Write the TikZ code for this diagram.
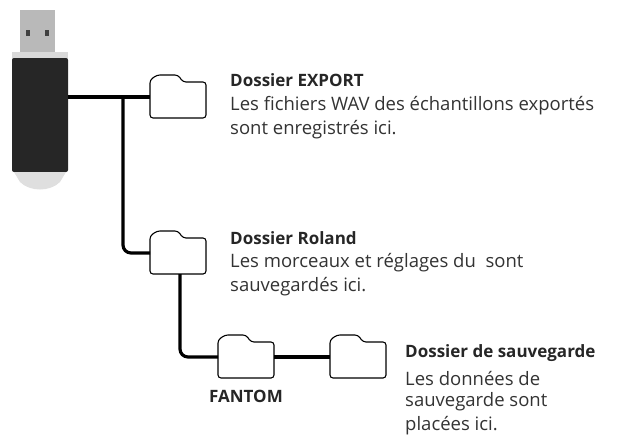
\documentclass[tikz,border=0pt]{standalone}
\usepackage{fontspec}
\setmainfont{Open Sans}
\begin{document}
\begin{tikzpicture}[x=1pt,y=-1pt,
  conn/.style={line width=3.2pt,black},
  txt/.style={anchor=west,font=\fontsize{18.5}{20}\selectfont,text=black!80,inner sep=0},
  ttl/.style={anchor=west,font=\fontsize{17}{20}\selectfont\bfseries,text=black!85,inner sep=0}]
\useasboundingbox (0,0) rectangle (618,437);
\def\folder#1#2#3{%
 \draw[line width=1.1pt,fill=white,rounded corners=3pt] (#1,#2+8) -- (#1,#2+46) -- (#1+56,#2+46) -- (#1+56,#2+10) -- (#1+33,#2+10) -- (#1+28,#2+3) -- (#1+7,#2+3) -- cycle;
 \coordinate (#3) at (#1,#2+25);}
% USB stick
\fill[gray!55] (20,10) rectangle (55,55);
\fill[black!75] (26,30) rectangle (30,36); \fill[black!75] (45,30) rectangle (49,36);
\fill[gray!30] (12,52) rectangle (68,60);
\fill[black!85,rounded corners=2pt] (12,58) rectangle (68,172);
\fill[gray!25] (14,172) -- (66,172) -- (60,182) .. controls (50,192) and (30,192) .. (20,182) -- cycle;
\coordinate (usb) at (68,97);
% folders
\folder{150}{72}{fexp}
\folder{150}{228}{frol}
\folder{218}{332}{ffan}
\folder{330}{332}{fsav}
\coordinate (j1) at (123,97);
\draw[conn] (usb) -- (fexp);
\draw[conn,rounded corners=8pt] (j1) |- (frol);
\draw[conn,rounded corners=8pt] (180,274) |- (ffan);
\draw[conn] (274,357) -- (fsav);
\node[ttl] (t1) at (230,80) {Dossier EXPORT};
\node[txt] (t2) at (230,106) {Les fichiers WAV des échantillons exportés};
\node[txt] (t3) at (230,130) {sont enregistrés ici.};
\node[ttl] (t4) at (230,238) {Dossier Roland};
\node[txt] (t5) at (230,263) {Les morceaux et réglages du\ \ sont};
\node[txt] (t6) at (230,287) {sauvegardés ici.};
\node[ttl] (t7) at (405,353) {Dossier de sauvegarde};
\node[txt] (t8) at (405,378) {Les données de};
\node[txt] (t9) at (405,402) {sauvegarde sont};
\node[txt] (t10) at (405,426) {placées ici.};
\node[ttl,anchor=center] (t11) at (246,396) {FANTOM};
\end{tikzpicture}
\end{document}
